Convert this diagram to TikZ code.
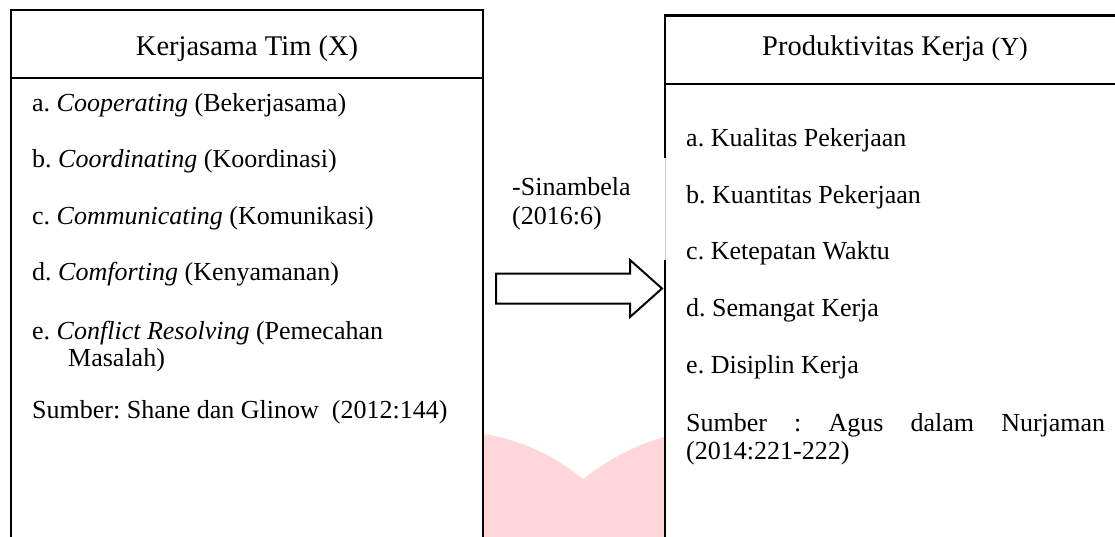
\documentclass[tikz,border=0pt]{standalone}
\usepackage{fontspec}
\setmainfont{Liberation Serif}
\frenchspacing
\usetikzlibrary{positioning,calc}
\definecolor{WmPink}{RGB}{255,215,218}
\definecolor{SeamGray}{RGB}{205,205,205}
\tikzset{
	item/.style={anchor=base west,inner sep=0pt,font=\fontsize{26}{28}\selectfont},
	head/.style={anchor=base,inner sep=0pt,font=\fontsize{28.5}{30}\selectfont},
	frame/.style={draw=black,line width=2pt},
}

\begin{document}
\begin{tikzpicture}[x=1pt,y=-1pt]
	\useasboundingbox (0,0) rectangle (1115,536);
	% faint mark behind the boxes
	\fill[WmPink] (483,434) .. controls (525,440) and (560,460) .. (583,479)
		.. controls (610,458) and (640,443) .. (665,437) -- (665,540) -- (483,540) -- cycle;
	% left box
	\coordinate (xbl) at (11,540);
	\coordinate (xtl) at (11,10);
	\coordinate (xtr) at (483,10);
	\coordinate (xbr) at (483,540);
	\draw[frame,line join=miter] (xbl)--(xtl)--(xtr)--(xbr);
	\draw[frame] (11,78)--(483,78);
	\node[head] (xhead) at (247,55) {Kerjasama Tim (X)};
	\foreach \n/\t/\yy in {xa/{a. \textit{Cooperating} (Bekerjasama)}/111,
		xb/{b. \textit{Coordinating} (Koordinasi)}/167,
		xc/{c. \textit{Communicating} (Komunikasi)}/224,
		xd/{d. \textit{Comforting} (Kenyamanan)}/280,
		xe/{e. \textit{Conflict Resolving} (Pemecahan}/339,
		xsrc/{Sumber: Shane dan Glinow\ \ (2012:144)}/418}
	\node[item] (\n) at (32,\yy) {\t};
	\node[item] (xe2) at (68,366) {Masalah)};
	% right box
	\coordinate (ytl) at (665,15);
	\coordinate (ytr) at (1120,15);
	\coordinate (yg1) at (665,158);
	\coordinate (yg2) at (665,260);
	\coordinate (ybl) at (665,540);
	\draw[frame,line width=3pt] (663.75,15)--(ytr);
	\draw[frame,line width=2.5pt] (ytl)--(yg1);
	\draw[SeamGray,line width=1pt] (yg1)--(yg2);
	\draw[frame,line width=2.5pt] (yg2)--(ybl);
	\draw[frame] (665,84)--(1120,84);
	\node[head] (yhead) at (895,55) {Produktivitas Kerja {\fontsize{26}{28}\selectfont(Y)}};
	\foreach \n/\t/\yy in {ya/a. Kualitas Pekerjaan/146,
		yb/b. Kuantitas Pekerjaan/203,
		yc/c. Ketepatan Waktu/259,
		yd/d. Semangat Kerja/316,
		ye/e. Disiplin Kerja/373}
	\node[item] (\n) at (686,\yy) {\t};
	\node[item,text width=419pt,align=justify] (ysrc) at (686,431)
		{Sumber : Agus dalam Nurjaman\linebreak (2014:221-222)};
	% block arrow between the boxes
	\node[item] (ref1) at (512,195) {-Sinambela};
	\node[item] (ref2) at (512,224) {(2016:6)};
	\draw[line width=2pt,fill=white,line join=miter] (496,273.5)--(630,273.5)--(630,260)
		--(662,288.5)--(630,317)--(630,303.5)--(496,303.5)--cycle;
\end{tikzpicture}
\end{document}
